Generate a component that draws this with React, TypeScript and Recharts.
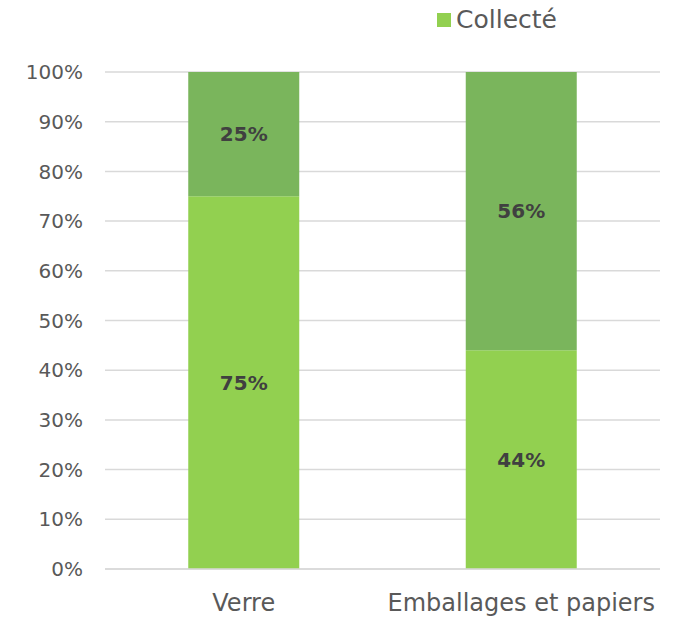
import React from 'react';
import { BarChart, Bar, XAxis, YAxis, CartesianGrid, LabelList } from 'recharts';

const categories = ['Verre', 'Emballages et papiers'];
const collecte = [75, 44];
const nonCollecte = [25, 56];
const yTicks = [0, 10, 20, 30, 40, 50, 60, 70, 80, 90, 100];

const data = categories.map((name, i) => ({
  name,
  collecte: collecte[i],
  reste: nonCollecte[i],
}));

const FONT = '"DejaVu Sans", sans-serif';

const App: React.FC = () => {
  return (
    <div style={{ position: 'absolute', top: 0, left: 0, width: 689, height: 617, background: '#fff', overflow: 'hidden' }}>
      {/* legend: only the collected series is listed */}
      <div
        style={{
          position: 'absolute', top: 5, left: 437,
          display: 'flex', alignItems: 'center',
          fontFamily: FONT, fontSize: 25, color: '#595959',
        }}
      >
        <span style={{ width: 14, height: 14, background: '#92D050', display: 'inline-block', marginRight: 5 }} />
        Collecté
      </div>
      <BarChart
        width={689}
        height={617}
        data={data}
        margin={{ top: 72, right: 29, bottom: 0, left: 0 }}
        barCategoryGap="30%"
      >
        <CartesianGrid vertical={false} stroke="#d9d9d9" strokeWidth={1.5} />
        <XAxis
          dataKey="name"
          height={48}
          axisLine={{ stroke: '#d9d9d9', strokeWidth: 1.5 }}
          tickLine={false}
          tickSize={0}
          tickMargin={25}
          tick={{ fill: '#595959', fontSize: 24, fontFamily: FONT }}
          interval={0}
        />
        <YAxis
          width={105}
          domain={[0, 100]}
          ticks={yTicks}
          tickFormatter={(v: number) => `${v}%`}
          axisLine={false}
          tickLine={false}
          tickSize={0}
          tickMargin={22}
          tick={{ fill: '#595959', fontSize: 20, fontFamily: FONT }}
        />
        <Bar dataKey="collecte" stackId="a" fill="#92D050" isAnimationActive={false}>
          <LabelList
            dataKey="collecte"
            position="center"
            formatter={(v: number) => `${v}%`}
            style={{ fill: '#404040', fontWeight: 'bold', fontSize: 20, fontFamily: FONT }}
          />
        </Bar>
        <Bar dataKey="reste" stackId="a" fill="#7AB55C" isAnimationActive={false}>
          <LabelList
            dataKey="reste"
            position="center"
            formatter={(v: number) => `${v}%`}
            style={{ fill: '#404040', fontWeight: 'bold', fontSize: 20, fontFamily: FONT }}
          />
        </Bar>
      </BarChart>
    </div>
  );
};

export default App;
